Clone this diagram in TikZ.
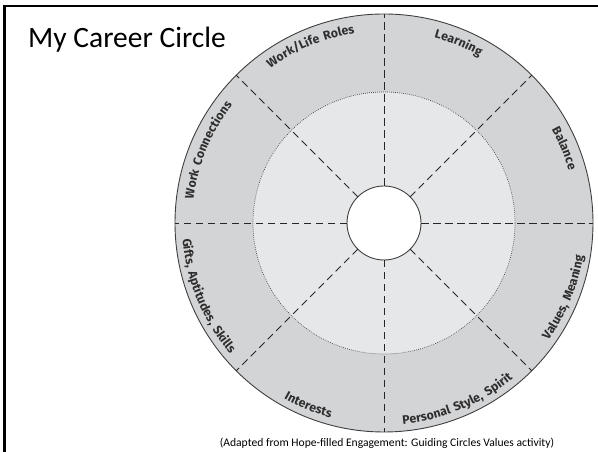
\documentclass[tikz,border=0pt]{standalone}
\usepackage{fontspec}
\setmainfont{Carlito}
\newfontfamily\lblfamily[LetterSpace=12]{Fira Sans}
\usetikzlibrary{decorations.text}
\definecolor{ringgray}{HTML}{D3D4D6}
\definecolor{innergray}{HTML}{E6E7E8}
\definecolor{edgegray}{HTML}{3F3F3F}
\definecolor{lblcol}{HTML}{2E2E2E}
\newcommand{\lbl}{\lblfamily\bfseries\fontsize{12.3}{14}\selectfont\color{lblcol}}
\tikzset{
  ringlabel/.style={decorate, decoration={text along path, text={|\lbl|#1}, text align=center}},
  divider/.style={draw=black!85, line width=0.75pt, dash pattern=on 7.5pt off 4.5pt},
}
\begin{document}
\begin{tikzpicture}[x=1pt,y=1pt]
\useasboundingbox (0,0) rectangle (598,452);
\coordinate (c) at (384,229);
% frame
\draw[line width=2.5pt] (4.6,0) |- (600,446);
% title
\node[anchor=base west, inner sep=0, font=\fontsize{29.5}{34}\selectfont] (title) at (28,404) {My Career Circle};
% outer ring
\node[circle, minimum size=418pt, inner sep=0, outer sep=0, fill=ringgray, draw=edgegray, line width=0.9pt] (ring) at (c) {};
% inner disk
\node[circle, minimum size=262pt, inner sep=0, outer sep=0, fill=innergray, draw=black!75, line width=0.7pt, dash pattern=on 0.7pt off 1.3pt] (mid) at (c) {};
% hub
\node[circle, minimum size=74pt, inner sep=0, outer sep=0, fill=white, draw=edgegray, line width=0.9pt] (hub) at (c) {};
% dividers
\foreach \a in {0,45,...,315} { \draw[divider] (hub.\a) -- (ring.\a); }
% labels (top half: clockwise; bottom half: counterclockwise)
\path[ringlabel={Learning}] ([shift={(90:192pt)}]c) arc[start angle=90, end angle=45, radius=192pt];
\path[ringlabel={Balance}] ([shift={(45:192pt)}]c) arc[start angle=45, end angle=0, radius=192pt];
\path[ringlabel={Work/Life Roles}] ([shift={(135:192pt)}]c) arc[start angle=135, end angle=90, radius=192pt];
\path[ringlabel={Work Connections}] ([shift={(180:192pt)}]c) arc[start angle=180, end angle=135, radius=192pt];
\path[ringlabel={Gifts, Aptitudes, Skills}] ([shift={(180:202pt)}]c) arc[start angle=180, end angle=225, radius=202pt];
\path[ringlabel={Interests}] ([shift={(225:202pt)}]c) arc[start angle=225, end angle=270, radius=202pt];
\path[ringlabel={Personal Style, Spirit}] ([shift={(270:202pt)}]c) arc[start angle=270, end angle=315, radius=202pt];
\path[ringlabel={Values, Meaning}] ([shift={(315:202pt)}]c) arc[start angle=315, end angle=360, radius=202pt];
% footnote
\node[anchor=base, inner sep=0, font=\fontsize{11.6}{13}\selectfont] (note) at (387,5) {(Adapted from Hope-filled Engagement: Guiding Circles Values activity)};
\end{tikzpicture}
\end{document}
